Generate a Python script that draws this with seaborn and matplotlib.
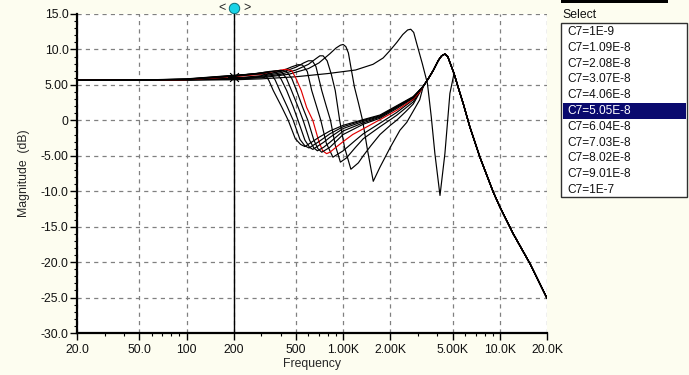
import matplotlib
matplotlib.use("Agg")
import matplotlib.pyplot as plt
import seaborn as sns
import pandas as pd
import numpy as np
from matplotlib.ticker import FixedLocator, NullFormatter, LogLocator
from matplotlib.patches import Rectangle

# ---------------- data ----------------
labels = ["C7=1E-9", "C7=1.09E-8", "C7=2.08E-8", "C7=3.07E-8", "C7=4.06E-8",
          "C7=5.05E-8", "C7=6.04E-8", "C7=7.03E-8", "C7=8.02E-8", "C7=9.01E-8", "C7=1E-7"]
selected = "C7=5.05E-8"

x_ticks = [20, 50, 100, 200, 500, 1000, 2000, 5000, 10000, 20000]
x_tick_labels = ["20.0", "50.0", "100", "200", "500", "1.00K", "2.00K", "5.00K", "10.0K", "20.0K"]
y_ticks = [15, 10, 5, 0, -5, -10, -15, -20, -25, -30]
y_tick_labels = ["15.0", "10.0", "5.00", "0", "-5.00", "-10.0", "-15.0", "-20.0", "-25.0", "-30.0"]

cursor_freq = 200

# shared high-frequency part (all curves merge here)
tail_f = [3245, 3500, 3760, 4050, 4250, 4460, 4650, 4850, 5100, 5500, 5840, 6440, 7460, 9070, 10000, 12170, 15560, 20000]
tail_db = [4.8, 5.9, 7.05, 8.45, 9.1, 9.35, 9.0, 7.9, 6.6, 4.2, 2.35, -0.95, -5.2, -10.1, -12.2, -16.0, -20.2, -25.1]

c01_f = [20, 50, 100, 200, 300, 500, 800, 1200, 1550, 1800, 2000, 2200, 2400, 2580, 2700, 2820, 2950, 3200, 3450, 3650, 3850, 4150, 4460, 4800, 5100]
c01_db = [5.65, 5.66, 5.68, 5.72, 5.85, 6.15, 6.6, 7.1, 7.9, 8.8, 9.9, 11.0, 12.1, 12.75, 12.85, 12.4, 10.8, 8.0, 5.2, 0.5, -4.7, -10.6, -4.7, 3.8, 6.6]

c02_f = [20, 50, 100, 200, 300, 450, 600, 700, 823, 900, 960, 1000, 1040, 1080, 1120, 1180, 1250, 1330, 1430, 1556, 1718, 2000, 2303, 2543, 2800, 3080]
c02_db = [5.65, 5.66, 5.7, 5.8, 6.0, 6.5, 7.3, 8.1, 9.4, 10.2, 10.6, 10.7, 10.4, 9.5, 7.5, 4.7, 2.5, 0.0, -4.2, -8.6, -6.6, -3.8, -1.4, -0.3, 1.3, 2.9]

c03_f = [20, 50, 100, 200, 300, 400, 500, 600, 670, 710, 745, 790, 840, 890, 950, 1020, 1120, 1250, 1343, 1500, 1718, 2000, 2193, 2500, 2800]
c03_db = [5.65, 5.66, 5.71, 5.85, 6.1, 6.5, 7.1, 7.9, 8.7, 9.1, 9.1, 8.4, 6.5, 4.2, 0.0, -3.8, -6.9, -6.0, -5.0, -3.6, -2.0, -0.7, 0.0, 1.2, 2.3]

c04_f = [20, 50, 100, 200, 300, 400, 500, 560, 600, 635, 670, 730, 780, 830, 890, 960, 1050, 1200, 1343, 1718, 2193, 2800]
c04_db = [5.65, 5.66, 5.72, 5.9, 6.2, 6.7, 7.5, 8.1, 8.4, 8.4, 7.6, 4.2, 2.0, 0.0, -3.5, -5.9, -5.3, -3.8, -2.6, -0.9, 0.7, 2.6]

c05_f = [20, 50, 100, 200, 300, 400, 470, 515, 550, 590, 630, 680, 720, 780, 860, 950, 1000, 1200, 1343, 1718, 2193, 2800]
c05_db = [5.65, 5.66, 5.73, 5.95, 6.3, 6.9, 7.55, 7.85, 7.8, 6.9, 4.2, 1.8, 0.0, -3.2, -5.2, -4.6, -4.3, -2.8, -1.9, -0.4, 1.1, 2.9]

c06_f = [20, 50, 100, 200, 300, 380, 430, 470, 500, 540, 585, 640, 700, 740, 784, 823, 900, 1000, 1150, 1343, 1718, 2193, 2800, 3080]
c06_db = [5.65, 5.67, 5.75, 6.15, 6.5, 7.0, 7.2, 7.0, 5.9, 4.2, 1.8, 0.0, -3.0, -4.3, -4.7, -4.5, -3.8, -3.0, -2.0, -1.2, 0.1, 1.4, 3.0, 4.0]

c07_f = [20, 50, 100, 200, 300, 360, 400, 435, 470, 504, 550, 595, 650, 690, 730, 823, 1000, 1343, 1718, 2193, 2800]
c07_db = [5.65, 5.67, 5.77, 6.2, 6.6, 6.95, 7.05, 6.9, 5.9, 4.2, 1.9, 0.0, -2.8, -4.0, -4.5, -3.8, -2.0, -0.55, 0.3, 1.65, 3.15]

c08_f = [20, 50, 100, 200, 300, 340, 375, 405, 435, 468, 515, 555, 610, 650, 685, 750, 823, 1000, 1343, 1718, 2193, 2800]
c08_db = [5.65, 5.67, 5.78, 6.25, 6.7, 6.9, 6.95, 6.8, 5.9, 4.2, 1.9, 0.0, -2.8, -3.9, -4.3, -3.8, -3.1, -1.5, -0.35, 0.45, 1.8, 3.2]

c09_f = [20, 50, 100, 200, 280, 320, 348, 375, 402, 436, 480, 515, 570, 610, 640, 750, 823, 1000, 1343, 1718, 2193, 2800]
c09_db = [5.65, 5.67, 5.8, 6.28, 6.6, 6.8, 6.85, 6.7, 5.8, 4.2, 1.9, 0.0, -2.8, -3.8, -4.1, -3.1, -2.4, -1.15, -0.15, 0.55, 1.9, 3.25]

c10_f = [20, 50, 100, 200, 260, 295, 320, 345, 368, 394, 440, 480, 530, 570, 605, 700, 823, 1000, 1343, 1718, 2193, 2800]
c10_db = [5.65, 5.67, 5.82, 6.32, 6.5, 6.65, 6.7, 6.55, 5.7, 4.2, 1.9, 0.0, -2.7, -3.6, -3.9, -3.0, -1.9, -0.9, 0.0, 0.65, 1.95, 3.3]

c11_f = [20, 50, 100, 200, 250, 275, 295, 318, 336, 358, 405, 446, 495, 535, 570, 700, 823, 1000, 1343, 1718, 2193, 2800]
c11_db = [5.65, 5.68, 5.85, 6.35, 6.5, 6.55, 6.6, 6.45, 5.6, 4.2, 1.9, 0.0, -2.6, -3.4, -3.7, -2.4, -1.5, -0.7, 0.1, 0.75, 2.05, 3.35]

curve_f = [c01_f, c02_f, c03_f, c04_f, c05_f, c06_f, c07_f, c08_f, c09_f, c10_f, c11_f]
curve_db = [c01_db, c02_db, c03_db, c04_db, c05_db, c06_db, c07_db, c08_db, c09_db, c10_db, c11_db]

rows = []
for lab, fs, ds in zip(labels, curve_f, curve_db):
    last = fs[-1]
    f_all = list(fs) + [f for f in tail_f if f > last]
    d_all = list(ds) + [d for f, d in zip(tail_f, tail_db) if f > last]
    for i, (f, d) in enumerate(zip(f_all, d_all)):
        rows.append({"curve": lab, "order": i, "freq": f, "db": d})
df = pd.DataFrame(rows)

# ---------------- style ----------------
sns.set_style("white")
plt.rcParams["font.family"] = ["Liberation Sans", "DejaVu Sans"]
plt.rcParams["lines.scale_dashes"] = False

W, H = 689, 375
bg = "#fdfdf0"
fig = plt.figure(figsize=(W / 100, H / 100), dpi=100, facecolor=bg)
ax = fig.add_axes([77 / W, 1 - 333 / H, 470 / W, 319 / H])
ax.set_facecolor("white")

palette = {lab: ("#e00000" if lab == selected else "black") for lab in labels}
sns.lineplot(data=df, x="freq", y="db", hue="curve", hue_order=labels, palette=palette,
             sort=False, estimator=None, legend=False, lw=0.85, ax=ax)

ax.set_xscale("log")
ax.set_xlim(20, 20000)
ax.set_ylim(-30, 15)

ax.xaxis.set_major_locator(FixedLocator(x_ticks))
ax.set_xticklabels(x_tick_labels)
ax.xaxis.set_minor_locator(LogLocator(base=10, subs=np.arange(2, 10)))
ax.xaxis.set_minor_formatter(NullFormatter())
ax.yaxis.set_major_locator(FixedLocator(y_ticks))
ax.set_yticklabels(y_tick_labels)
ax.yaxis.set_minor_locator(FixedLocator(np.arange(-30, 16, 1)))

ax.tick_params(axis="both", which="major", direction="out", length=5, width=1,
               color="black", labelsize=8.8, labelcolor="#111111")
ax.tick_params(axis="both", which="minor", direction="out", length=2.5, width=0.8, color="black")
ax.tick_params(axis="y", which="major", pad=1)
ax.tick_params(axis="x", which="major", pad=3)
ax.tick_params(left=True, bottom=True, which="both")

ax.grid(True, which="major", color="#808080", lw=0.9, ls=(0, (3, 3)))
ax.set_axisbelow(True)
for s in ["top", "right"]:
    ax.spines[s].set_visible(False)
for s in ["left", "bottom"]:
    ax.spines[s].set_color("black")
    ax.spines[s].set_linewidth(1.6)

ax.set_xlabel("Frequency", fontsize=8.8, labelpad=1)
ax.set_ylabel("Magnitude  (dB)", fontsize=8.8, labelpad=8)

# cursor
red_idx = labels.index(selected)
ax.plot([cursor_freq, cursor_freq], [-30, 15.3], color="black", lw=1.0, clip_on=False, zorder=5)
ax.plot([cursor_freq], [15.85], marker="o", ms=7.5, mfc="#19d3e6", mec="#0a6f7a", mew=0.7,
        clip_on=False, zorder=6)
fig.text(221.5 / W, 1 - 8 / H, "<", fontsize=9, ha="center", va="center", color="#222222")
fig.text(246.5 / W, 1 - 8 / H, ">", fontsize=9, ha="center", va="center", color="#222222")
star_y = np.interp(np.log10(cursor_freq), np.log10(curve_f[red_idx]), curve_db[red_idx])
ax.plot([cursor_freq], [star_y], marker=(8, 2, 0), ms=9, color="black", mew=0.6, zorder=6)

# list box legend
fig.patches.append(Rectangle((561 / W, 1 - 3 / H), 107 / W, 3 / H, transform=fig.transFigure,
                             facecolor="black", edgecolor="none"))
fig.text(562 / W, 1 - 14.5 / H, "Select", fontsize=8.8, ha="left", va="center", color="#111111")
fig.patches.append(Rectangle((561 / W, 1 - 197 / H), 126 / W, 174 / H, transform=fig.transFigure,
                             facecolor="white", edgecolor="#303030", lw=1.0))
row_h = 15.8
for i, lab in enumerate(labels):
    yc = 32 + row_h * i
    col = "#111111"
    if lab == selected:
        fig.patches.append(Rectangle((563 / W, 1 - (yc + 8) / H), 123 / W, 16 / H,
                                     transform=fig.transFigure, facecolor="#0a0a6e", edgecolor="none"))
        col = "white"
    fig.text(567 / W, 1 - yc / H, lab, fontsize=8.6, ha="left", va="center", color=col)

fig.savefig("out.png", dpi=100, facecolor=bg)
